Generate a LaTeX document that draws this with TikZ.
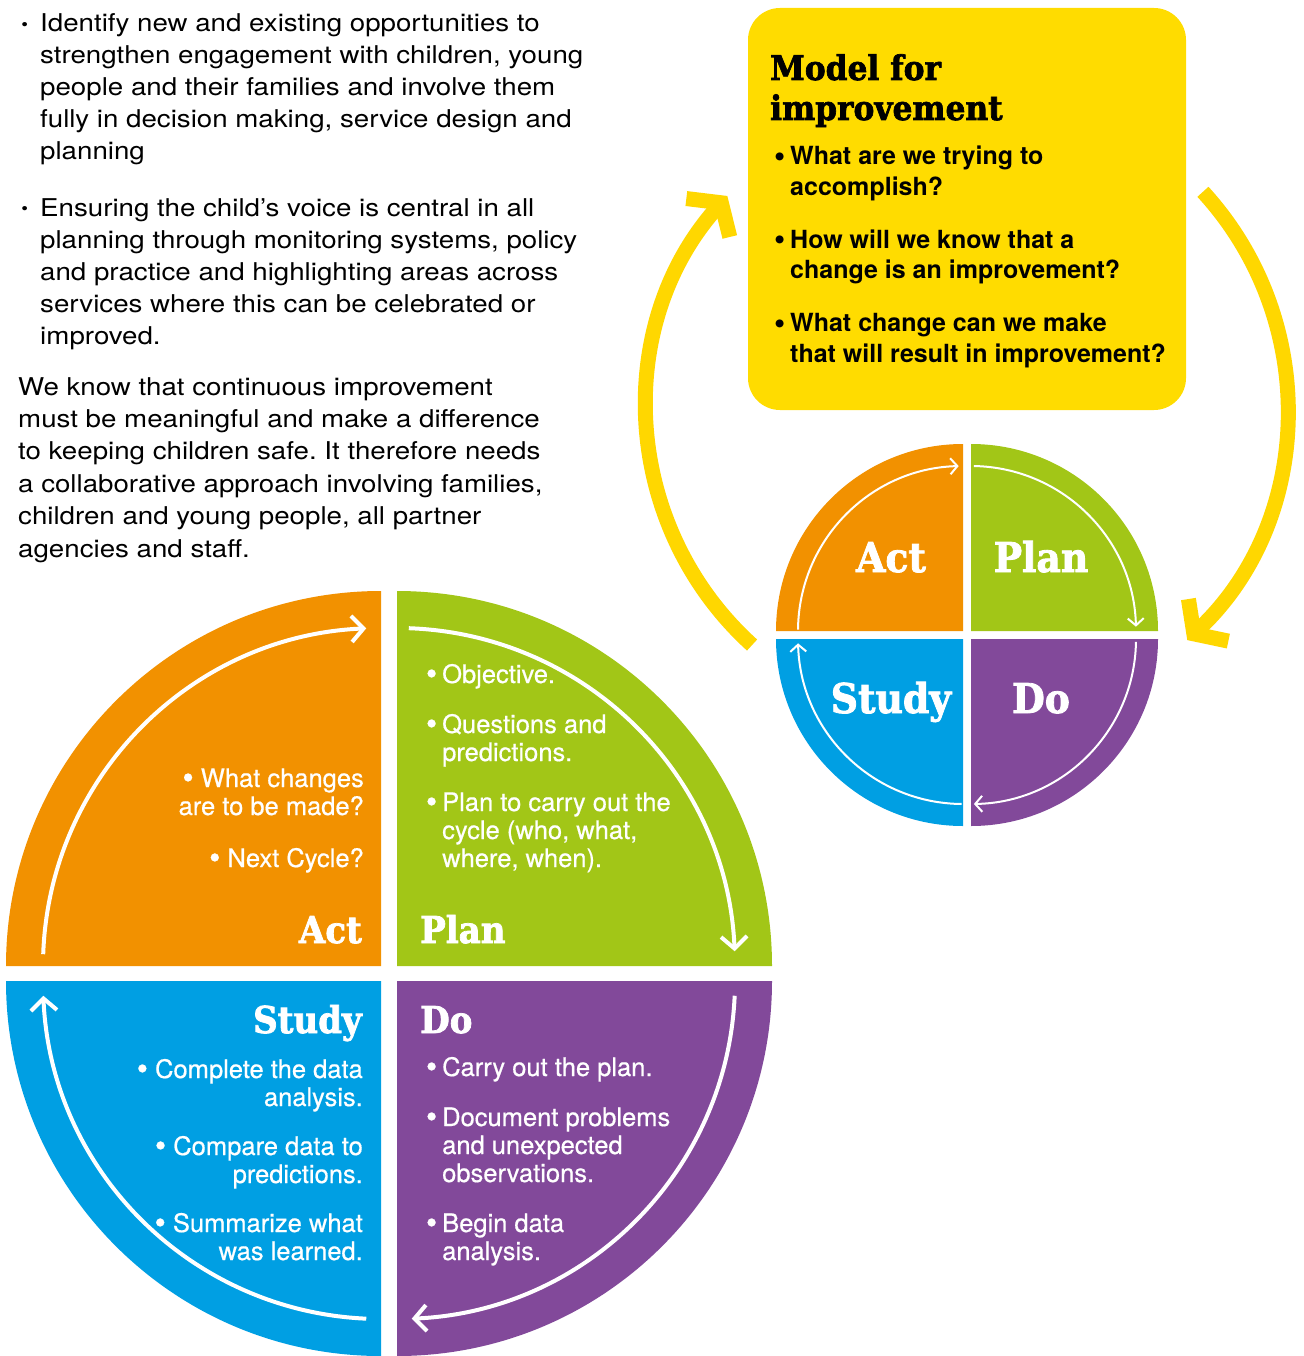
\documentclass[tikz,border=0pt]{standalone}
\usepackage{fontspec}
\setmainfont{TeX Gyre Heros}
\newfontfamily\bodyfont[FakeStretch=1.13]{TeX Gyre Heros}
\newfontfamily\quadfont[FakeBold=0.6]{TeX Gyre Heros}
\newfontfamily\yfont{TeX Gyre Heros}
\newfontfamily\slab[FakeStretch=0.92,FakeBold=2]{DejaVu Serif Bold}
\usetikzlibrary{arrows.meta}
\definecolor{cOrange}{HTML}{F29100}
\definecolor{cGreen}{HTML}{A2C617}
\definecolor{cBlue}{HTML}{009FE3}
\definecolor{cPurple}{HTML}{82499A}
\definecolor{cYellow}{HTML}{FFDC00}
\definecolor{cYArrow}{HTML}{FFD700}
\tikzset{
  bigarr/.style={draw=white, line width=4pt, -{Straight Barb[length=12pt,width=26pt]}},
  smallarr/.style={draw=white, line width=2pt, -{Straight Barb[length=7pt,width=16pt]}},
  yarr/.style={draw=cYArrow, line width=15pt, -{Straight Barb[length=20pt,width=58pt,sharp]}},
  bodytext/.style={inner sep=0pt, align=left, text=black, font=\frenchspacing\bodyfont\fontsize{24.5}{32}\selectfont},
  wtext/.style={inner sep=0pt, text=white, font=\frenchspacing\quadfont\fontsize{25.5}{28}\selectfont},
  bigtitle/.style={inner sep=0pt, text=white, font=\slab\fontsize{37}{37}\selectfont},
  smalltitle/.style={inner sep=0pt, text=white, font=\slab\fontsize{41}{41}\selectfont},
  ytitle/.style={inner sep=0pt, align=left, text=black, font=\slab\fontsize{34}{40}\selectfont},
  ytext/.style={inner sep=0pt, align=left, text=black, font=\yfont\bfseries\fontsize{25}{30.5}\selectfont},
}
\newcommand{\bigbul}{\raisebox{-1.5pt}{\fontsize{32}{28}\selectfont\textbullet}}
\newcommand{\wbul}{\llap{\bigbul\hspace{5pt}}}
\newcommand{\smbul}{\llap{\raisebox{1.5pt}{\fontsize{17}{17}\selectfont\textbullet}\hspace{12pt}}}
\begin{document}
\begin{tikzpicture}[x=1pt,y=-1pt]
\useasboundingbox (0,0) rectangle (1303,1356);
% ---------- top-left text (anchored at the baseline of the last line)
\node[bodytext, anchor=base west] (b1) at (40,160) {\smbul Identify new and existing opportunities to\\ strengthen engagement with children, young\\ people and their families and involve them\\ fully in decision making, service design and\\ planning};
\node[bodytext, anchor=base west] (b2) at (40,344) {\smbul Ensuring the child’s voice is central in all\\ planning through monitoring systems, policy\\ and practice and highlighting areas across\\ services where this can be celebrated or\\ improved.};
\node[bodytext, anchor=base west, font=\frenchspacing\bodyfont\fontsize{24.5}{32.4}\selectfont] (p3) at (18,557) {We know that continuous improvement\\ must be meaningful and make a difference\\ to keeping children safe. It therefore needs\\ a collaborative approach involving families,\\ children and young people, all partner\\ agencies and staff.};
% ---------- big cycle
\fill[cOrange] (381,966) -- ++(-375pt,0) arc[start angle=180,end angle=90,radius=375pt] -- cycle;
\fill[cGreen] (397,966) -- ++(0,375pt) arc[start angle=90,end angle=0,radius=375pt] -- cycle;
\fill[cPurple] (397,981) -- ++(375pt,0) arc[start angle=0,end angle=-90,radius=375pt] -- cycle;
\fill[cBlue] (381,981) -- ++(0,-375pt) arc[start angle=270,end angle=180,radius=375pt] -- cycle;
\draw[bigarr] ([shift={(178:338pt)}]381,966) arc[start angle=178,end angle=92.5,radius=338pt];
\draw[bigarr] ([shift={(88:338pt)}]397,966) arc[start angle=88,end angle=2.5,radius=338pt];
\draw[bigarr] ([shift={(-2.5:338pt)}]397,981) arc[start angle=-2.5,end angle=-87.5,radius=338pt];
\draw[bigarr] ([shift={(267.5:338pt)}]381,981) arc[start angle=267.5,end angle=182.5,radius=338pt];
\node[bigtitle, anchor=base east] (actL) at (362,943) {Act};
\node[bigtitle, anchor=base west] (planL) at (420,943) {Plan};
\node[bigtitle, anchor=base east] (studyL) at (362,1033) {Study};
\node[bigtitle, anchor=base west] (doL) at (420,1033) {Do};
\node[wtext, align=right, anchor=base east] (actT) at (364,867) {\bigbul\ What changes\\ are to be made?\\[24pt] \bigbul\ Next Cycle?};
\node[wtext, align=left, anchor=base west] (planT) at (442,867) {\wbul Objective.\\[22pt] \wbul Questions and\\ predictions.\\[22pt] \wbul Plan to carry out the\\ cycle (who, what,\\ where, when).};
\node[wtext, align=right, anchor=base east] (studyT) at (363,1260) {\bigbul\ Complete the data\\ analysis.\\[21pt] \bigbul\ Compare data to\\ predictions.\\[21pt] \bigbul\ Summarize what\\ was learned.};
\node[wtext, align=left, anchor=base west] (doT) at (442,1260) {\wbul Carry out the plan.\\[22pt] \wbul Document problems\\ and unexpected\\ observations.\\[22pt] \wbul Begin data\\ analysis.};
% ---------- model for improvement box
\fill[cYellow, rounded corners=32pt] (748,8) rectangle (1186,410);
\node[ytitle, anchor=base west] (mTitle) at (770,120) {Model for\\ improvement};
\node[ytext, anchor=base west] (mText) at (790,362) {\wbul What are we trying to\\ accomplish?\\[22.5pt] \wbul How will we know that a\\ change is an improvement?\\[22.5pt] \wbul What change can we make\\ that will result in improvement?};
% ---------- yellow cycle arrows
\draw[yarr] ([shift={(227.8:320pt)}]967,408) arc[start angle=227.8,end angle=138.5,radius=320pt];
\draw[yarr] ([shift={(42.5:320pt)}]967,408) arc[start angle=42.5,end angle=-46.5,radius=320pt];
% ---------- small cycle
\fill[cOrange] (963,631) -- ++(-187pt,0) arc[start angle=180,end angle=90,radius=187pt] -- cycle;
\fill[cGreen] (971,631) -- ++(0,187pt) arc[start angle=90,end angle=0,radius=187pt] -- cycle;
\fill[cPurple] (971,639) -- ++(187pt,0) arc[start angle=0,end angle=-90,radius=187pt] -- cycle;
\fill[cBlue] (963,639) -- ++(0,-187pt) arc[start angle=270,end angle=180,radius=187pt] -- cycle;
\draw[smallarr] ([shift={(179.5:165pt)}]963,631) arc[start angle=179.5,end angle=91.5,radius=165pt];
\draw[smallarr] ([shift={(89:165pt)}]971,631) arc[start angle=89,end angle=1.5,radius=165pt];
\draw[smallarr] ([shift={(-1:165pt)}]971,639) arc[start angle=-1,end angle=-89,radius=165pt];
\draw[smallarr] ([shift={(269.5:165pt)}]963,639) arc[start angle=269.5,end angle=181.5,radius=165pt];
\node[smalltitle, anchor=base] (sAct) at (891,572) {Act};
\node[smalltitle, anchor=base] (sPlan) at (1041,572) {Plan};
\node[smalltitle, anchor=base] (sStudy) at (891,713) {Study};
\node[smalltitle, anchor=base] (sDo) at (1041,713) {Do};
\end{tikzpicture}
\end{document}
